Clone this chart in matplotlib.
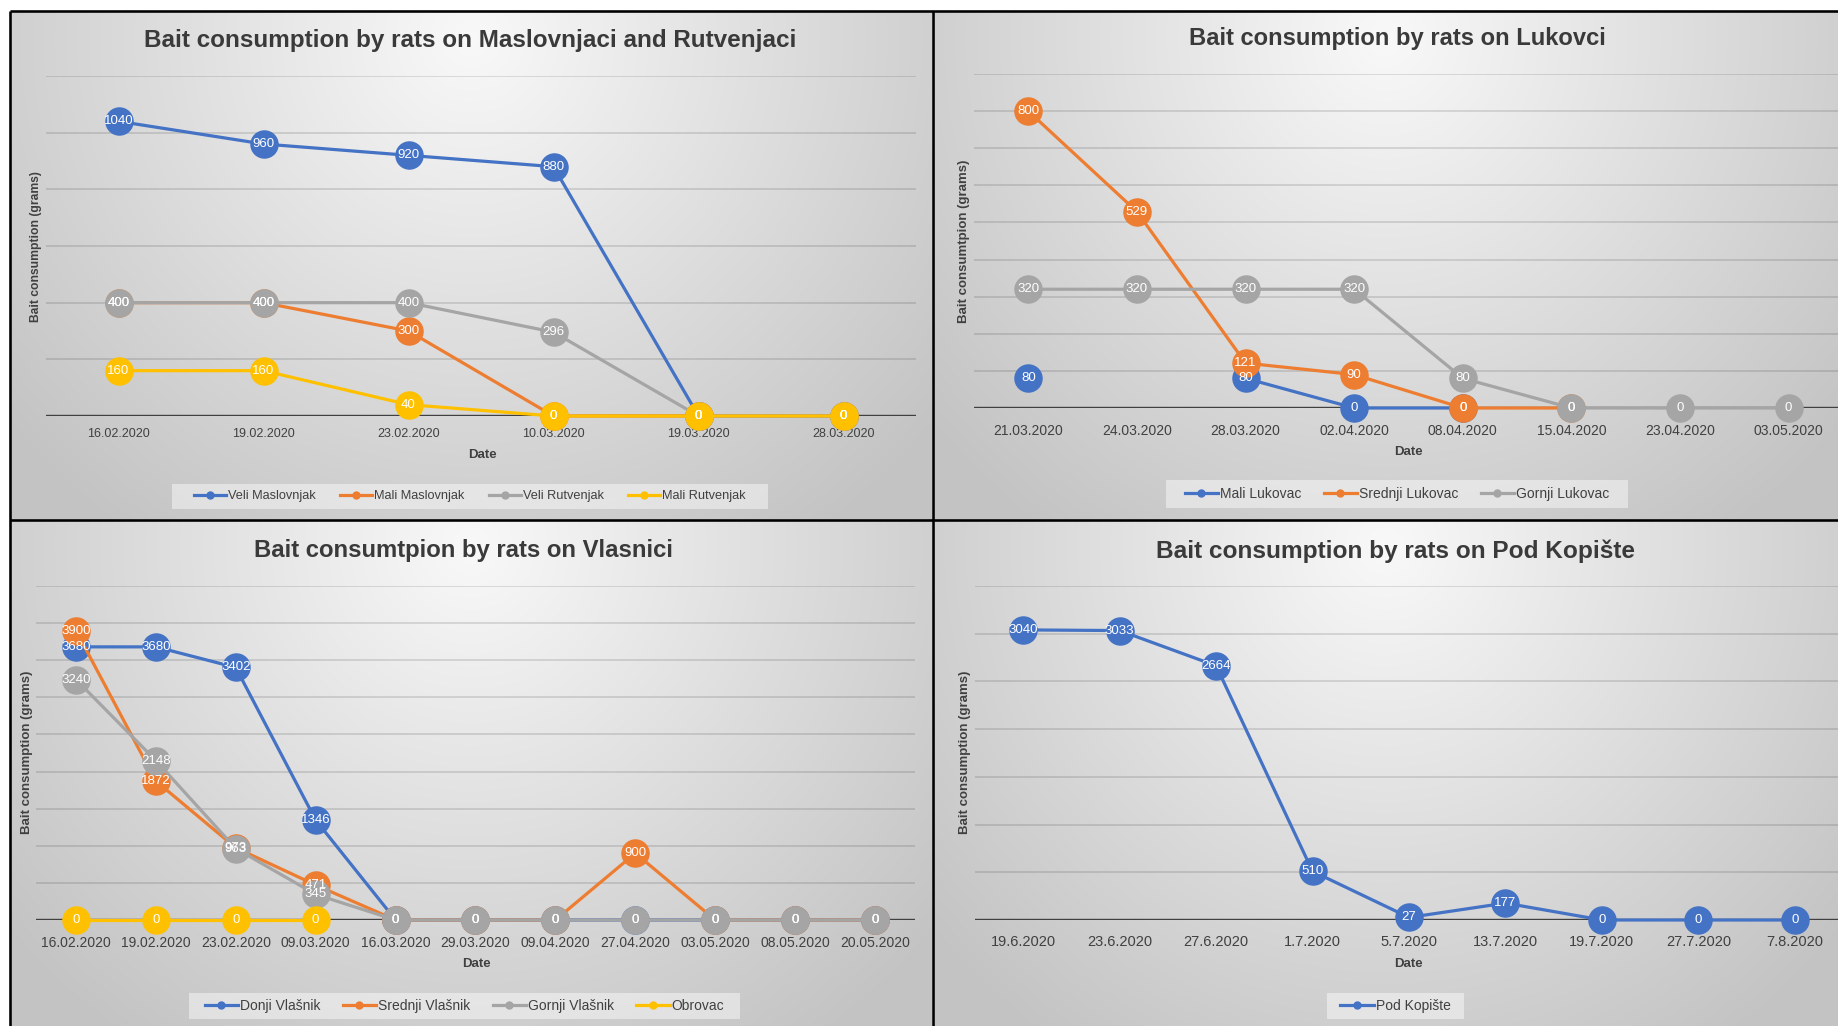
import numpy as np
import matplotlib
matplotlib.use('Agg')
import matplotlib.pyplot as plt
from matplotlib.lines import Line2D
from matplotlib.patches import Rectangle

plt.rcParams['font.family'] = ['Liberation Sans', 'DejaVu Sans']

W, H, DPI = 1838, 1026, 100
PT = 72 / DPI  # points per pixel
nan = np.nan

BLUE, ORANGE, GRAY, YELLOW = '#4472C4', '#ED7D31', '#A5A5A5', '#FFC000'

# ---------------- data ----------------
p1_dates = ['16.02.2020', '19.02.2020', '23.02.2020', '10.03.2020', '19.03.2020', '28.03.2020']
p1_veli_maslovnjak = [1040, 960, 920, 880, 0, 0]
p1_mali_maslovnjak = [400, 400, 300, 0, 0, 0]
p1_veli_rutvenjak = [400, 400, 400, 296, 0, 0]
p1_mali_rutvenjak = [160, 160, 40, 0, 0, 0]

p2_dates = ['21.03.2020', '24.03.2020', '28.03.2020', '02.04.2020', '08.04.2020',
            '15.04.2020', '23.04.2020', '03.05.2020']
p2_mali_lukovac = [80, nan, 80, 0, 0, nan, nan, nan]
p2_srednji_lukovac = [800, 529, 121, 90, 0, 0, nan, nan]
p2_gornji_lukovac = [320, 320, 320, 320, 80, 0, 0, 0]

p3_dates = ['16.02.2020', '19.02.2020', '23.02.2020', '09.03.2020', '16.03.2020', '29.03.2020',
            '09.04.2020', '27.04.2020', '03.05.2020', '08.05.2020', '20.05.2020']
p3_donji_vlasnik = [3680, 3680, 3402, 1346, 0, 0, 0, 0, 0, 0, 0]
p3_srednji_vlasnik = [3900, 1872, 973, 471, 0, 0, 0, 900, 0, 0, 0]
p3_gornji_vlasnik = [3240, 2148, 963, 345, 0, 0, 0, 0, 0, 0, 0]
p3_obrovac = [0, 0, 0, 0, nan, nan, nan, nan, nan, nan, nan]

p4_dates = ['19.6.2020', '23.6.2020', '27.6.2020', '1.7.2020', '5.7.2020', '13.7.2020',
            '19.7.2020', '27.7.2020', '7.8.2020']
p4_pod_kopiste = [3040, 3033, 2664, 510, 27, 177, 0, 0, 0]

# ---------------- figure & background ----------------
fig = plt.figure(figsize=(W / DPI, H / DPI), dpi=DPI)
bg = fig.add_axes([0, 0, 1, 1])
bg.axis('off')

img = np.ones((H, W))
panel_px = [(10, 12, 932, 520), (933, 12, 1838, 520), (10, 520, 932, 1026), (933, 520, 1838, 1026)]
for (x0, y0, x1, y1) in panel_px:
    yy, xx = np.mgrid[y0:y1, x0:x1]
    u = (xx - x0) / (x1 - x0)
    v = (yy - y0) / (y1 - y0)
    r = np.sqrt(((u - 0.5) / 0.55) ** 2 + ((v - 0.05) / 1.0) ** 2)
    img[y0:y1, x0:x1] = 0.975 - 0.175 * np.clip(r, 0, 1.2)
bg.imshow(np.dstack([img] * 3), extent=(0, W, H, 0), aspect='auto', interpolation='bilinear')
bg.set_xlim(0, W)
bg.set_ylim(H, 0)

blw = 2.6 * PT
for xs, ys in [([9.5, W], [11, 11]), ([9.5, 9.5], [11, H]),
               ([932.5, 932.5], [11, H]), ([9.5, W], [520, 520])]:
    bg.plot(xs, ys, color='black', lw=blw, solid_capstyle='butt')

renderer = fig.canvas.get_renderer()


def fit(text, target, vertical=False):
    for _ in range(3):
        bb = text.get_window_extent(renderer)
        cur = bb.height if vertical else bb.width
        text.set_fontsize(text.get_fontsize() * target / cur)


def draw_panel(box, ymax, step, dates, series, title, title_w, title_c,
               ylabel, ylabel_len, ylabel_c, xlabel_c, tick_size, tick_c_y,
               label_size, leg_box, leg_size, leg_hl, leg_cs):
    x0, y0, x1, y1 = box
    ax = fig.add_axes([x0 / W, 1 - y1 / H, (x1 - x0) / W, (y1 - y0) / H])
    ax.patch.set_alpha(0)
    n = len(dates)
    x = np.arange(n)
    ax.set_xlim(-0.5, n - 0.5)
    ax.set_ylim(0, ymax)
    for s in ax.spines.values():
        s.set_visible(False)
    ax.set_yticks(np.arange(0, ymax + 1, step))
    ax.tick_params(axis='y', length=0, labelleft=False)
    ax.set_axisbelow(True)
    ax.grid(axis='y', color='black', alpha=0.14, lw=1.6 * PT)
    ax.axhline(0, color='#404040', lw=2.4 * PT, zorder=2)
    em = tick_size / PT
    pad_px = (tick_c_y - y1) - 0.39 * em
    ax.set_xticks(x, dates)
    ax.tick_params(axis='x', length=0, pad=pad_px * PT, labelsize=tick_size, labelcolor='#404040')

    for i, (name, vals, color) in enumerate(series):
        ax.plot(x, vals, color=color, lw=2.3, marker='o', ms=19.5, mec=color,
                clip_on=False, zorder=3 + i)
    for i, (name, vals, color) in enumerate(series):
        for xi, v in zip(x, vals):
            if not np.isnan(v):
                ax.text(xi, v, f'{int(v)}', ha='center', va='center', color='white',
                        fontsize=label_size, zorder=20, clip_on=False)

    t = ax.set_title(title, x=(title_c[0] - x0) / (x1 - x0), y=(y1 - title_c[1]) / (y1 - y0),
                     va='center', ha='center', pad=0, fontsize=17, fontweight='bold', color='#3a3a3a')
    fit(t, title_w)

    ax.set_xlabel('Date', fontsize=9.5, fontweight='bold', color='#404040')
    ax.xaxis.label.set_va('center')
    ax.xaxis.set_label_coords((xlabel_c[0] - x0) / (x1 - x0), (y1 - xlabel_c[1]) / (y1 - y0))

    ax.set_ylabel(ylabel, fontsize=8, fontweight='bold', color='#404040')
    ax.yaxis.label.set_va('center')
    ax.yaxis.set_label_coords((ylabel_c[0] - x0) / (x1 - x0), (y1 - ylabel_c[1]) / (y1 - y0))
    fit(ax.yaxis.label, ylabel_len, vertical=True)

    lx0, ly0, lx1, ly1 = leg_box
    bg.add_patch(Rectangle((lx0, ly0), lx1 - lx0, ly1 - ly0, facecolor='white', alpha=0.45,
                           edgecolor='none'))
    handles = [Line2D([], [], color=c, lw=2.3, marker='o', ms=5) for _, _, c in series]
    ax.legend(handles, [s[0] for s in series], loc='center',
              bbox_to_anchor=((lx0 + lx1) / 2 / W, 1 - (ly0 + ly1) / 2 / H),
              bbox_transform=fig.transFigure, ncol=len(series), frameon=False,
              fontsize=leg_size, handlelength=leg_hl, handletextpad=0.15,
              columnspacing=leg_cs, labelcolor='#404040', borderpad=0)
    return ax


draw_panel((46, 76, 916, 416), 1200, 200, p1_dates,
           [('Veli Maslovnjak', p1_veli_maslovnjak, BLUE),
            ('Mali Maslovnjak', p1_mali_maslovnjak, ORANGE),
            ('Veli Rutvenjak', p1_veli_rutvenjak, GRAY),
            ('Mali Rutvenjak', p1_mali_rutvenjak, YELLOW)],
           'Bait consumption by rats on Maslovnjaci and Rutvenjaci', 649, (470, 41),
           'Bait consumption (grams)', 150, (36, 247), (482, 455), 9, 433, 9.5,
           (172, 484, 768, 509), 9.2, 2.5, 1.9)

draw_panel((974, 74, 1843, 408), 900, 100, p2_dates,
           [('Mali Lukovac', p2_mali_lukovac, BLUE),
            ('Srednji Lukovac', p2_srednji_lukovac, ORANGE),
            ('Gornji Lukovac', p2_gornji_lukovac, GRAY)],
           'Bait consumption by rats on Lukovci', 417, (1397, 39),
           'Bait consumtpion (grams)', 164, (964, 241), (1408, 452), 10, 429, 9.5,
           (1166, 480, 1628, 508), 10, 2.4, 1.6)

draw_panel((36, 586, 915, 920), 4500, 500, p3_dates,
           [('Donji Vlašnik', p3_donji_vlasnik, BLUE),
            ('Srednji Vlašnik', p3_srednji_vlasnik, ORANGE),
            ('Gornji Vlašnik', p3_gornji_vlasnik, GRAY),
            ('Obrovac', p3_obrovac, YELLOW)],
           'Bait consumtpion by rats on Vlasnici', 419, (464, 551),
           'Bait consumption (grams)', 164, (27, 752), (476, 964), 10, 941, 9.5,
           (189, 993, 740, 1019), 10, 2.4, 1.6)

draw_panel((975, 586, 1843, 920), 3500, 500, p4_dates,
           [('Pod Kopište', p4_pod_kopiste, BLUE)],
           'Bait consumption by rats on Pod Kopište', 478, (1396, 551),
           'Bait consumption (grams)', 164, (965, 752), (1408, 964), 10.5, 941, 9.5,
           (1327, 993, 1464, 1019), 10, 2.4, 1.6)

fig.savefig('out.png', dpi=DPI)
